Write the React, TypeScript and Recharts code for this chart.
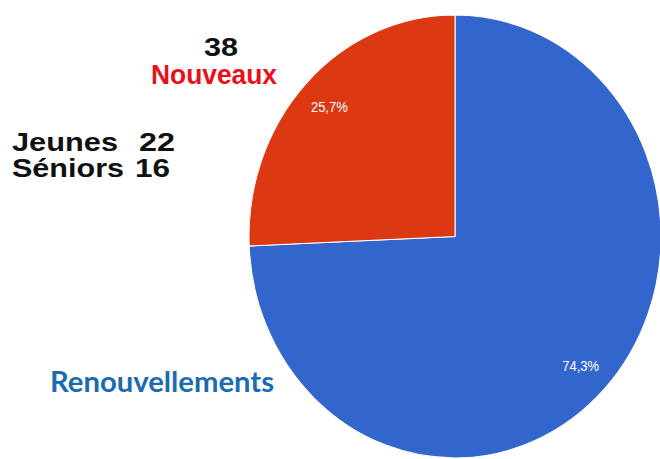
import React from "react";
import { PieChart, Pie, Cell } from "recharts";

// values
const categories = ["Renouvellements", "Nouveaux"];
const values = [110, 38];
const colors = ["#3366CC", "#DC3912"];
const subGroups = ["Jeunes", "Séniors"];
const subValues = [22, 16];

const data = categories.map((name, i) => ({ name, value: values[i] }));

const RAD = Math.PI / 180;

const renderLabel = (props: any) => {
  const { cx, cy, midAngle, outerRadius, percent } = props;
  const r = outerRadius * 0.845;
  const x = cx + r * Math.cos(-midAngle * RAD);
  const y = cy + r * Math.sin(-midAngle * RAD);
  const txt = (percent * 100).toFixed(1).replace(".", ",") + "%";
  return (
    <text
      x={x}
      y={y}
      fill="#fff"
      fontSize={13}
      fontFamily="'Liberation Sans', Arial, sans-serif"
      textAnchor="middle"
      dominantBaseline="central"
    >
      {txt}
    </text>
  );
};

const boldFont = "'Liberation Sans', Arial, sans-serif";

const App = () => {
  return (
    <div
      style={{
        position: "absolute",
        left: 0,
        top: 0,
        width: 660,
        height: 459,
        background: "#fff",
        overflow: "hidden",
      }}
    >
      <div style={{ transform: "scaleY(1.075)", transformOrigin: "0 0" }}>
        <PieChart width={660} height={430} margin={{ top: 0, right: 0, bottom: 0, left: 0 }}>
          <Pie
            data={data}
            dataKey="value"
            nameKey="name"
            cx={455}
            cy={220}
            outerRadius={206}
            startAngle={90}
            endAngle={-270}
            stroke="#fff"
            strokeWidth={1}
            label={renderLabel}
            labelLine={false}
            isAnimationActive={false}
          >
            {data.map((d, i) => (
              <Cell key={d.name} fill={colors[i]} />
            ))}
          </Pie>
        </PieChart>
      </div>
      <svg
        width={660}
        height={459}
        style={{ position: "absolute", left: 0, top: 0 }}
      >
        <g fontFamily={boldFont} fontWeight="bold">
          <text x={204} y={56} fontSize={26} fill="#111" textLength={34} lengthAdjust="spacingAndGlyphs">
            {values[1]}
          </text>
          <text x={151} y={84} fontSize={28} fill="#E8101A" textLength={126} lengthAdjust="spacingAndGlyphs">
            {categories[1]}
          </text>
          <text x={12} y={151} fontSize={25} fill="#111" textLength={106} lengthAdjust="spacingAndGlyphs">
            {subGroups[0]}
          </text>
          <text x={139} y={151} fontSize={25} fill="#111" textLength={36} lengthAdjust="spacingAndGlyphs">
            {subValues[0]}
          </text>
          <text x={12} y={177} fontSize={25} fill="#111" textLength={112} lengthAdjust="spacingAndGlyphs">
            {subGroups[1]}
          </text>
          <text x={135} y={177} fontSize={25} fill="#111" textLength={35} lengthAdjust="spacingAndGlyphs">
            {subValues[1]}
          </text>
        </g>
        <text
          x={50}
          y={392}
          fontSize={28}
          fontFamily="Lato, 'Open Sans', sans-serif"
          fontWeight="bold"
          fill="#1C6BAF"
          textLength={224}
          lengthAdjust="spacingAndGlyphs"
        >
          {categories[0]}
        </text>
      </svg>
    </div>
  );
};

export default App;
